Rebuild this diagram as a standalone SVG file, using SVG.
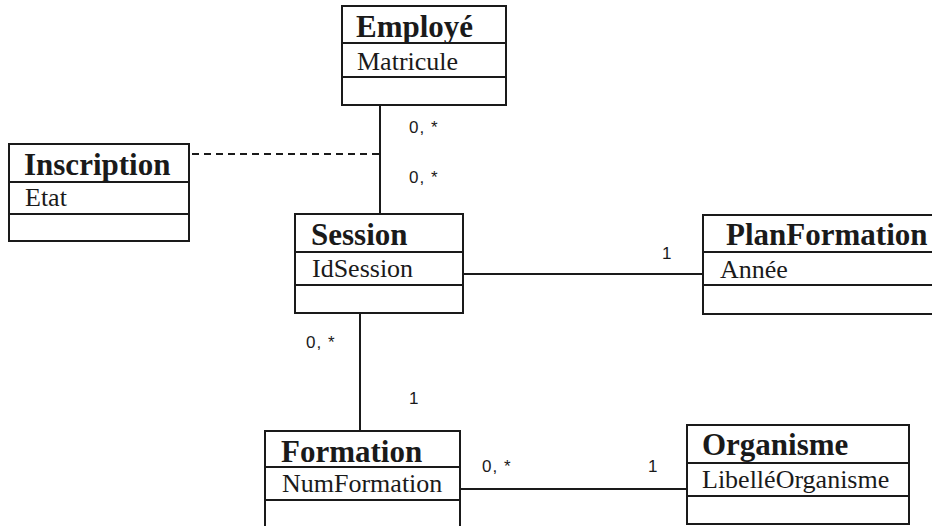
<svg xmlns="http://www.w3.org/2000/svg" width="932" height="526" viewBox="0 0 932 526">
  <style>
    .box { fill: #ffffff; stroke: #1a1a1a; stroke-width: 2; }
    .sep { stroke: #1a1a1a; stroke-width: 2; }
    .title { font-family: "Liberation Serif", "Times New Roman", serif; font-weight: bold; font-size: 31px; fill: #1a1a1a; }
    .attr { font-family: "Liberation Serif", "Times New Roman", serif; font-size: 26px; fill: #1a1a1a; }
    .link { stroke: #1a1a1a; stroke-width: 2; fill: none; }
    .dashed { stroke-dasharray: 7 5; }
    .mult { font-family: "Liberation Sans", Arial, sans-serif; font-size: 17px; fill: #1a1a1a; letter-spacing: 1px; }
  </style>
  <rect width="932" height="526" fill="#ffffff"/>

  <!-- associations -->
  <g id="connectors">
    <line class="link" x1="380" y1="105" x2="380" y2="214"/>
    <line class="link dashed" x1="192" y1="154" x2="380" y2="154"/>
    <line class="link" x1="463" y1="274" x2="703" y2="274"/>
    <line class="link" x1="360" y1="313" x2="360" y2="431"/>
    <line class="link" x1="460" y1="489" x2="687" y2="489"/>
    <text class="mult" x="409" y="133">0, *</text>
    <text class="mult" x="409" y="183">0, *</text>
    <text class="mult" x="662" y="259">1</text>
    <text class="mult" x="306" y="348">0, *</text>
    <text class="mult" x="409" y="404">1</text>
    <text class="mult" x="482" y="472">0, *</text>
    <text class="mult" x="648" y="472">1</text>
  </g>

  <g id="employe">
    <rect class="box" x="342" y="6" width="164" height="99"/>
    <line class="sep" x1="342" y1="43" x2="506" y2="43"/>
    <line class="sep" x1="342" y1="77" x2="506" y2="77"/>
    <text class="title" x="356" y="37">Employé</text>
    <text class="attr" x="357" y="70">Matricule</text>
  </g>

  <g id="inscription">
    <rect class="box" x="9" y="144" width="180" height="97"/>
    <line class="sep" x1="9" y1="182" x2="189" y2="182"/>
    <line class="sep" x1="9" y1="214" x2="189" y2="214"/>
    <text class="title" x="24" y="175">Inscription</text>
    <text class="attr" x="25" y="206">Etat</text>
  </g>

  <g id="session">
    <rect class="box" x="295" y="214" width="168" height="99"/>
    <line class="sep" x1="295" y1="252" x2="463" y2="252"/>
    <line class="sep" x1="295" y1="285" x2="463" y2="285"/>
    <text class="title" x="311" y="245">Session</text>
    <text class="attr" x="312" y="277">IdSession</text>
  </g>

  <g id="planformation">
    <rect class="box" x="703" y="215" width="240" height="99"/>
    <line class="sep" x1="703" y1="252" x2="943" y2="252"/>
    <line class="sep" x1="703" y1="285" x2="943" y2="285"/>
    <text class="title" x="726" y="245">PlanFormation</text>
    <text class="attr" x="720" y="278">Année</text>
  </g>

  <g id="formation">
    <rect class="box" x="265" y="431" width="195" height="110"/>
    <line class="sep" x1="265" y1="467" x2="460" y2="467"/>
    <line class="sep" x1="265" y1="500" x2="460" y2="500"/>
    <text class="title" x="281" y="462">Formation</text>
    <text class="attr" x="282" y="492">NumFormation</text>
  </g>

  <g id="organisme">
    <rect class="box" x="687" y="425" width="222" height="99"/>
    <line class="sep" x1="687" y1="463" x2="909" y2="463"/>
    <line class="sep" x1="687" y1="496" x2="909" y2="496"/>
    <text class="title" x="702" y="455">Organisme</text>
    <text class="attr" x="702" y="488">LibelléOrganisme</text>
  </g>
</svg>
